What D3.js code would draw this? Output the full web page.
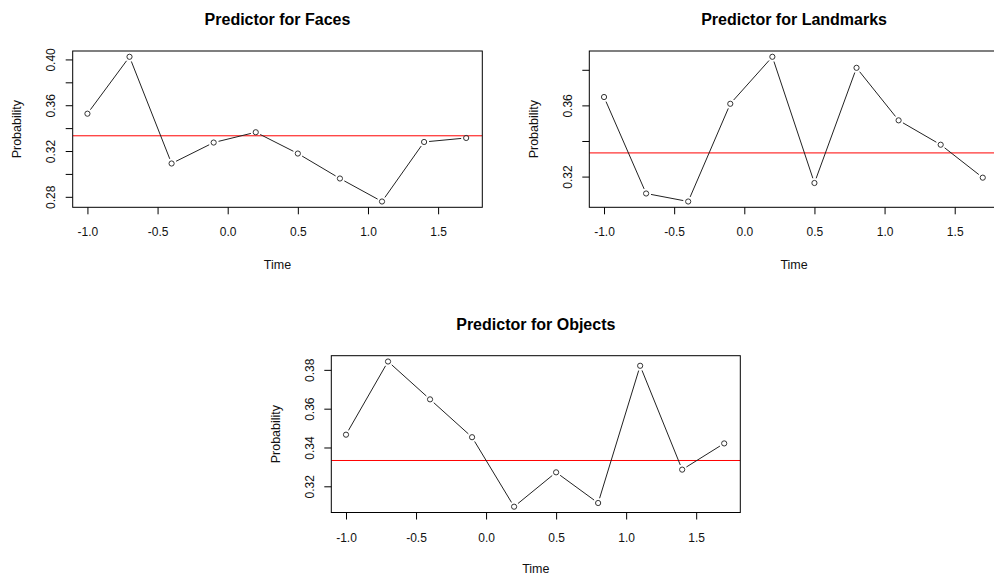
<!DOCTYPE html>
<html>
<head>
<meta charset="utf-8">
<script src="https://cdn.jsdelivr.net/npm/d3@7/dist/d3.min.js"></script>
<style>
  html, body { margin: 0; padding: 0; background: #fff; }
  svg { display: block; font-family: "Liberation Sans", Arial, sans-serif; }
</style>
</head>
<body>
<svg id="chart" width="994" height="581"></svg>
<script>
// ---- data ----
const times = [-1.0, -0.7, -0.4, -0.1, 0.2, 0.5, 0.8, 1.1, 1.4, 1.7];
const faces = [0.3526, 0.4023, 0.3091, 0.3274, 0.3364, 0.3178, 0.2960, 0.2759, 0.3279, 0.3314];
const landmarks = [0.3647, 0.3105, 0.3060, 0.3609, 0.3873, 0.3164, 0.3811, 0.3516, 0.3379, 0.3194];
const objects = [0.3466, 0.3843, 0.3648, 0.3453, 0.3095, 0.3272, 0.3114, 0.3821, 0.3286, 0.3421];
const chanceLevel = 0.3333;
const xTicks = [-1.0, -0.5, 0.0, 0.5, 1.0, 1.5];
const facesYTicks = [0.28, 0.30, 0.32, 0.34, 0.36, 0.38, 0.40];
const facesYLabels = [0.28, 0.32, 0.36, 0.40];
const landmarksYTicks = [0.32, 0.34, 0.36, 0.38];
const landmarksYLabels = [0.32, 0.36];
const objectsYTicks = [0.32, 0.34, 0.36, 0.38];
const objectsYLabels = [0.32, 0.34, 0.36, 0.38];
const titles = ["Predictor for Faces", "Predictor for Landmarks", "Predictor for Objects"];
const xLabel = "Time";
const yLabel = "Probability";

// ---- layout ----
const panels = [
  { title: titles[0], values: faces, yTicks: facesYTicks, yLabels: facesYLabels,
    box: { x0: 72.7, x1: 482.3, y0: 51, y1: 207.3 }, titleY: 25, xLabY: 268.5 },
  { title: titles[1], values: landmarks, yTicks: landmarksYTicks, yLabels: landmarksYLabels,
    box: { x0: 589.3, x1: 998.9, y0: 51, y1: 207.3 }, titleY: 25, xLabY: 268.5 },
  { title: titles[2], values: objects, yTicks: objectsYTicks, yLabels: objectsYLabels,
    box: { x0: 331.3, x1: 740.3, y0: 355.7, y1: 512.5 }, titleY: 330, xLabY: 573.3 }
];

const svg = d3.select("#chart");

panels.forEach((p, i) => {
  const b = p.box;
  const x = d3.scaleLinear().domain([-1.105, 1.815]).range([b.x0, b.x1]);
  const [mn, mx] = d3.extent(p.values);
  const ext = (mx - mn) * 0.04;
  const y = d3.scaleLinear().domain([mn - ext, mx + ext]).range([b.y1, b.y0]);

  const g = svg.append("g");
  const clipId = "clip" + i;
  svg.append("clipPath").attr("id", clipId).append("rect")
    .attr("x", b.x0).attr("y", b.y0).attr("width", b.x1 - b.x0).attr("height", b.y1 - b.y0);

  // title
  g.append("text").attr("x", (b.x0 + b.x1) / 2).attr("y", p.titleY)
    .attr("text-anchor", "middle").attr("font-weight", "bold").attr("font-size", 16)
    .attr("fill", "#000").text(p.title);

  // x axis
  const xa = g.append("g").attr("transform", `translate(0,${b.y1})`)
    .call(d3.axisBottom(x).tickValues(xTicks).tickSize(7).tickFormat(d => d.toFixed(1)));
  xa.select(".domain").remove();
  xa.selectAll(".tick line").attr("stroke", "#000");
  xa.selectAll(".tick text").attr("y", 29).attr("dy", 0).attr("font-size", 12)
    .attr("font-family", "Liberation Sans, Arial, sans-serif").attr("fill", "#111");

  // y axis
  const ya = g.append("g").attr("transform", `translate(${b.x0},0)`)
    .call(d3.axisLeft(y).tickValues(p.yTicks).tickSize(7)
      .tickFormat(d => p.yLabels.some(v => Math.abs(v - d) < 1e-9) ? d.toFixed(2) : ""));
  ya.select(".domain").remove();
  ya.selectAll(".tick line").attr("stroke", "#000");
  ya.selectAll(".tick text").attr("transform", "rotate(-90)")
    .attr("x", 0).attr("y", -17.5).attr("dy", 0).attr("text-anchor", "middle")
    .attr("font-size", 12).attr("font-family", "Liberation Sans, Arial, sans-serif").attr("fill", "#111");

  // axis titles
  g.append("text").attr("x", (b.x0 + b.x1) / 2).attr("y", p.xLabY)
    .attr("text-anchor", "middle").attr("font-size", 12.5).attr("fill", "#111").text(xLabel);
  const cy = (b.y0 + b.y1) / 2;
  g.append("text").attr("transform", `translate(${b.x0 - 51.3},${cy}) rotate(-90)`)
    .attr("text-anchor", "middle").attr("font-size", 12.5).attr("fill", "#111").text(yLabel);

  const inner = g.append("g").attr("clip-path", `url(#${clipId})`);

  // chance line
  inner.append("line").attr("x1", b.x0).attr("x2", b.x1)
    .attr("y1", y(chanceLevel)).attr("y2", y(chanceLevel))
    .attr("stroke", "#ff0000").attr("stroke-width", 1);

  // gapped line segments (type = "b")
  const pts = times.map((t, k) => [x(t), y(p.values[k])]);
  const gap = 5;
  const segs = d3.pairs(pts).map(([a, c]) => {
    const dx = c[0] - a[0], dy = c[1] - a[1];
    const len = Math.hypot(dx, dy);
    const ux = dx / len, uy = dy / len;
    return [[a[0] + ux * gap, a[1] + uy * gap], [c[0] - ux * gap, c[1] - uy * gap]];
  });
  const lineGen = d3.line();
  inner.selectAll("path.seg").data(segs).enter().append("path")
    .attr("class", "seg").attr("d", lineGen)
    .attr("fill", "none").attr("stroke", "#222").attr("stroke-width", 1);

  // points
  inner.selectAll("circle").data(pts).enter().append("circle")
    .attr("cx", d => d[0]).attr("cy", d => d[1]).attr("r", 2.6)
    .attr("fill", "none").attr("stroke", "#333").attr("stroke-width", 1);

  // box
  g.append("rect").attr("x", b.x0).attr("y", b.y0)
    .attr("width", b.x1 - b.x0).attr("height", b.y1 - b.y0)
    .attr("fill", "none").attr("stroke", "#000").attr("stroke-width", 1);
});
</script>
</body>
</html>
